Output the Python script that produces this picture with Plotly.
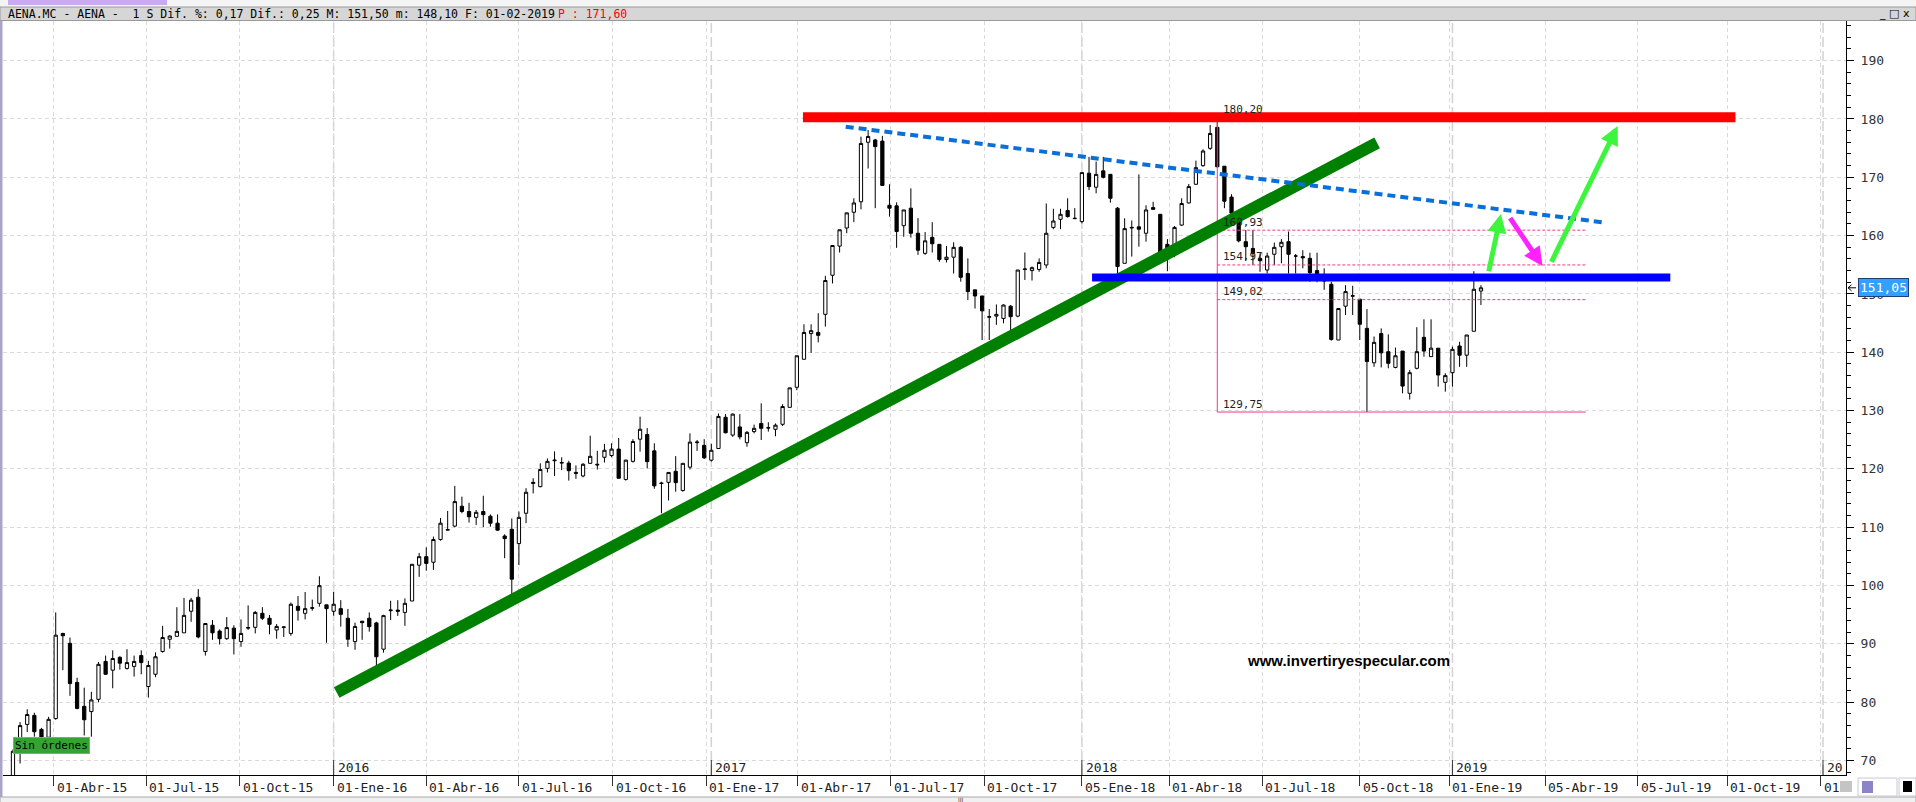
import pandas as pd
import plotly.graph_objects as go

# ---------------- data ----------------
first_week = "2015-02-20"
opens = [66.5, 71.6, 76.2, 77.75, 75.35, 74.0, 77.2, 91.8, 90.1, 83.4,
         79.3, 78.4, 80.5, 87.0, 85.5, 87.7, 85.8, 86.15, 88.0, 82.7,
         84.8, 88.7, 90.8, 91.3, 91.9, 95.6, 98.0, 88.7, 93.2, 92.2,
         90.9, 92.7, 90.4, 92.7, 92.85, 95.25, 94.4, 92.39, 92.85, 91.8,
         96.45, 95.25, 96.1, 96.96, 96.7, 95.6, 96.05, 94.4, 90.4, 93.9,
         94.4, 93.6, 89.1, 95.7, 95.8, 95.4, 97.36, 103.5, 104.96, 104.0,
         107.9, 109.5, 110.2, 113.6, 112.7, 111.7, 112.7, 111.9, 110.7, 108.5,
         109.65, 107.2, 112.4, 117.5, 116.96, 120.1, 121.4, 121.0, 121.0, 119.4,
         118.8, 120.96, 120.8, 122.0, 122.3, 123.4, 118.2, 121.3, 125.1, 125.9,
         123.1, 117.6, 117.7, 119.6, 116.3, 120.3, 124.5, 124.04, 121.5, 123.5,
         128.85, 125.8, 127.2, 124.5, 126.4, 127.8, 127.0, 126.8, 127.65, 130.56,
         134.0, 138.8, 143.2, 143.4, 146.5, 153.2, 158.2, 161.3, 164.0, 165.8,
         176.0, 176.4, 176.2, 165.2, 165.1, 161.7, 164.7, 160.4, 156.96, 159.7,
         158.5, 155.9, 156.3, 158.0, 153.5, 150.7, 149.65, 146.0, 146.2, 145.8,
         147.9, 146.2, 154.2, 154.0, 154.2, 154.96, 161.4, 162.8, 164.3, 162.9,
         162.4, 170.7, 168.3, 171.1, 170.5, 164.7, 155.25, 161.3, 161.5, 160.4,
         164.8, 163.65, 158.5, 156.96, 161.8, 165.6, 168.8, 172.0, 174.96, 178.56,
         171.9, 166.6, 162.6, 158.96, 157.8, 156.1, 154.1, 156.8, 158.1, 158.96,
         156.5, 156.4, 156.1, 154.0, 153.0, 151.65, 142.1, 147.9, 149.6, 149.1,
         144.1, 138.2, 143.2, 140.1, 137.4, 140.2, 132.96, 137.25, 142.56, 139.25,
         140.7, 134.85, 136.5, 141.07, 139.5, 143.6, 150.5]
highs = [71.9, 76.6, 78.8, 78.2, 75.6, 77.5, 95.4, 91.9, 91.1, 84.2,
         82.5, 81.8, 86.9, 88.0, 88.9, 87.9, 89.1, 88.0, 88.9, 87.1,
         88.55, 93.1, 91.5, 96.3, 97.9, 97.9, 99.4, 93.5, 94.1, 92.5,
         94.6, 93.2, 94.2, 96.6, 95.65, 96.3, 94.96, 93.4, 93.0, 97.1,
         98.2, 98.9, 97.6, 101.6, 96.7, 98.9, 97.5, 96.0, 93.65, 93.9,
         95.4, 93.8, 95.0, 97.4, 97.5, 97.8, 103.65, 105.6, 106.56, 108.4,
         111.6, 112.8, 117.1, 115.25, 114.2, 112.96, 115.4, 112.2, 112.2, 108.8,
         111.5, 112.7, 116.7, 118.4, 120.96, 121.8, 123.0, 122.0, 121.4, 120.6,
         121.0, 125.7, 123.1, 124.3, 124.4, 125.3, 121.6, 125.1, 128.96, 127.0,
         124.4, 117.8, 119.4, 122.2, 120.96, 126.1, 124.96, 125.1, 124.3, 129.5,
         129.4, 129.5, 129.4, 126.5, 127.6, 131.25, 128.0, 127.8, 131.1, 133.9,
         139.4, 144.8, 144.8, 146.7, 153.1, 158.3, 161.0, 163.9, 166.4, 176.96,
         178.1, 176.6, 177.1, 168.8, 165.7, 164.4, 168.1, 163.0, 160.6, 162.3,
         158.5, 158.2, 158.85, 158.2, 156.1, 150.7, 149.65, 147.4, 148.2, 148.2,
         148.1, 154.1, 157.1, 154.7, 156.1, 165.5, 164.6, 164.6, 166.4, 164.7,
         170.8, 173.5, 172.7, 173.5, 170.5, 164.9, 162.96, 162.6, 170.5, 165.2,
         165.8, 163.65, 159.4, 161.65, 166.4, 168.85, 172.85, 174.8, 178.96, 180.2,
         171.9, 167.1, 164.1, 160.96, 160.96, 156.96, 157.07, 158.8, 159.4, 160.7,
         156.85, 157.5, 157.07, 157.07, 154.4, 152.1, 147.5, 151.5, 151.4, 149.1,
         147.4, 142.7, 144.1, 143.07, 140.8, 140.2, 136.96, 144.3, 145.65, 145.65,
         140.7, 136.4, 140.96, 141.8, 142.96, 153.9, 151.5]
lows = [65.0, 69.5, 74.9, 74.1, 72.5, 73.0, 77.0, 85.5, 81.1, 78.8,
        74.3, 74.1, 80.0, 84.7, 82.4, 85.6, 85.6, 84.4, 84.8, 80.8,
        84.3, 88.5, 89.2, 91.3, 91.9, 93.8, 90.95, 88.0, 90.7, 89.9,
        90.7, 88.2, 89.5, 92.4, 91.8, 94.1, 91.65, 90.9, 91.2, 91.4,
        94.0, 94.2, 95.7, 96.4, 90.2, 94.85, 92.96, 89.5, 89.0, 90.7,
        92.1, 85.8, 88.5, 94.1, 94.8, 93.1, 97.36, 101.5, 102.56, 102.7,
        107.7, 109.5, 110.0, 112.4, 110.8, 110.4, 110.0, 110.1, 109.4, 104.7,
        98.4, 103.5, 110.7, 115.8, 116.85, 119.4, 118.8, 119.8, 118.0, 118.3,
        118.55, 120.85, 119.9, 121.1, 122.0, 118.4, 118.0, 121.1, 122.96, 120.1,
        116.6, 112.4, 114.6, 116.1, 116.1, 119.9, 123.1, 121.7, 121.25, 123.5,
        126.1, 125.5, 125.07, 123.8, 126.1, 124.96, 126.4, 125.6, 127.36, 130.56,
        133.5, 138.8, 139.9, 141.7, 144.4, 151.8, 157.1, 160.4, 162.3, 164.5,
        171.5, 164.7, 168.6, 163.25, 157.9, 159.8, 159.65, 156.7, 156.7, 157.1,
        155.5, 155.4, 153.5, 152.1, 148.96, 147.5, 142.1, 142.1, 144.7, 144.96,
        143.8, 146.0, 152.4, 152.3, 153.8, 154.4, 161.1, 161.1, 163.1, 162.85,
        162.1, 167.8, 167.25, 169.8, 165.65, 153.5, 155.25, 156.4, 158.1, 158.96,
        164.4, 156.96, 153.9, 156.3, 161.65, 165.5, 168.7, 171.8, 174.7, 171.7,
        164.7, 162.96, 158.85, 155.7, 154.96, 153.8, 153.5, 154.96, 155.25, 153.5,
        153.5, 154.4, 152.1, 152.0, 150.7, 141.99, 142.1, 146.4, 146.4, 142.1,
        129.75, 137.5, 137.4, 137.25, 137.25, 132.96, 131.9, 137.07, 139.25, 139.25,
        134.1, 133.25, 134.1, 137.5, 137.5, 143.6, 148.1]
closes = [71.6, 76.0, 77.9, 74.95, 73.8, 77.07, 91.5, 91.4, 83.2, 78.95,
          77.0, 80.4, 86.5, 84.8, 87.5, 86.7, 86.8, 87.0, 86.8, 86.3,
          87.8, 91.1, 91.35, 92.15, 94.9, 97.5, 91.2, 93.5, 91.9, 90.9,
          92.8, 90.9, 91.8, 92.8, 95.4, 94.4, 93.36, 93.0, 92.9, 96.8,
          95.76, 96.05, 96.2, 99.99, 96.05, 96.8, 95.07, 90.8, 93.0, 93.65,
          92.96, 87.8, 94.85, 95.8, 95.6, 96.96, 103.65, 104.96, 103.8, 107.9,
          110.7, 109.6, 114.4, 112.7, 111.8, 112.56, 112.16, 110.7, 109.5, 108.05,
          101.1, 111.7, 116.0, 117.7, 119.9, 121.3, 121.5, 121.1, 119.7, 119.25,
          120.8, 122.16, 120.7, 123.2, 123.4, 118.4, 121.5, 124.7, 126.8, 121.25,
          117.1, 117.5, 119.4, 117.65, 120.96, 124.6, 124.6, 121.9, 123.2, 129.0,
          126.2, 129.4, 125.5, 126.27, 126.96, 126.96, 127.07, 127.5, 130.7, 133.9,
          139.4, 143.4, 143.7, 142.9, 152.3, 158.3, 161.0, 163.9, 165.6, 175.8,
          177.0, 175.25, 168.6, 164.7, 160.7, 164.4, 160.4, 157.5, 159.1, 158.6,
          155.9, 156.3, 157.99, 152.85, 150.4, 149.65, 147.1, 146.1, 146.5, 148.1,
          146.1, 154.1, 154.27, 154.5, 155.4, 160.4, 162.5, 163.65, 163.25, 162.96,
          170.8, 168.4, 170.5, 170.0, 166.4, 154.7, 161.2, 161.4, 161.1, 164.4,
          164.5, 157.1, 156.0, 161.4, 165.5, 168.4, 171.65, 174.5, 177.5, 171.8,
          165.9, 163.85, 159.1, 158.1, 156.96, 155.7, 156.5, 157.99, 158.85, 156.8,
          156.5, 156.2, 153.65, 153.2, 152.2, 142.2, 147.5, 150.4, 149.7, 144.8,
          138.4, 141.7, 139.9, 138.1, 139.4, 134.2, 136.5, 140.1, 140.2, 140.7,
          136.1, 136.0, 140.5, 139.5, 142.96, 150.8, 151.05]

quarter_dates = ["2015-04-01", "2015-07-01", "2015-10-01", "2016-01-01", "2016-04-01",
                 "2016-07-01", "2016-10-01", "2017-01-01", "2017-04-01", "2017-07-01",
                 "2017-10-01", "2018-01-05", "2018-04-01", "2018-07-01", "2018-10-05",
                 "2019-01-01", "2019-04-05", "2019-07-05", "2019-10-01", "2020-01-01"]
quarter_labels = ["01-Abr-15", "01-Jul-15", "01-Oct-15", "01-Ene-16", "01-Abr-16",
                  "01-Jul-16", "01-Oct-16", "01-Ene-17", "01-Abr-17", "01-Jul-17",
                  "01-Oct-17", "05-Ene-18", "01-Abr-18", "01-Jul-18", "05-Oct-18",
                  "01-Ene-19", "05-Abr-19", "05-Jul-19", "01-Oct-19", "01"]
year_dates = ["2016-01-01", "2017-01-06", "2018-01-05", "2019-01-04", "2020-01-03"]
year_labels = ["2016", "2017", "2018", "2019", "20"]

resistance_dates = ["2017-04-06", "2019-10-09"]
resistance_level = 180.28
support_dates = ["2018-01-15", "2019-08-06"]
support_level = 152.82
uptrend_dates = ["2016-01-04", "2018-10-22"]
uptrend_prices = [81.67, 175.9]
downtrend_dates = ["2017-05-18", "2019-06-02"]
downtrend_prices = [178.67, 162.25]

arrow_tail_dates = ["2019-02-08 10:00", "2019-02-28 17:00", "2019-04-10 14:00"]
arrow_tail_prices = [153.64, 163.24, 155.25]
arrow_tip_dates = ["2019-02-20 14:00", "2019-04-02 10:00", "2019-06-15 07:00"]
arrow_tip_prices = [163.7, 154.79, 178.8]
arrow_colors = ["#3cf53c", "#ff22ff", "#3cf53c"]

fib_start = "2018-05-18"
fib_end = "2019-05-15"
fib_levels = [180.20, 160.93, 154.97, 149.02, 129.75]
fib_labels = ["180,20", "160,93", "154,97", "149,02", "129,75"]

last_price = 151.05
last_price_label = "151,05"
header_text = "AENA.MC - AENA -  1 S Dif. %: 0,17 Dif.: 0,25 M: 151,50 m: 148,10 F: 01-02-2019"
header_red = "P : 171,60"
watermark = "www.invertiryespecular.com"
status_text = "Sin órdenes"

x_range = ["2015-02-10 05:00", "2020-01-25 14:00"]
y_range = [67.53, 196.79]

# ---------------- layout geometry (pixels) ----------------
W, H = 1916, 802
L, R, T, B = 3, 1846, 21, 775


def fx(p):
    return (p - L) / (R - L)


def fy(p):
    return (B - p) / (B - T)


def fprice(v):
    return (v - y_range[0]) / (y_range[1] - y_range[0])


MONO = "DejaVu Sans Mono"
dates = pd.date_range(first_week, periods=len(opens), freq="7D")

fig = go.Figure()
fig.add_trace(go.Candlestick(
    x=dates, open=opens, high=highs, low=lows, close=closes,
    increasing=dict(line=dict(color="black", width=1), fillcolor="white"),
    decreasing=dict(line=dict(color="black", width=1), fillcolor="black"),
    whiskerwidth=0, showlegend=False, hoverinfo="skip",
))

shapes = []
annotations = []

# year lines (long dashes)
for d in year_dates:
    shapes.append(dict(type="line", xref="x", yref="paper", x0=d, x1=d, y0=0, y1=1,
                       line=dict(color="#d2d2d2", width=1.5, dash="10px,4px"), layer="below"))
    shapes.append(dict(type="line", xref="x", yref="paper", x0=d, x1=d, y0=0, y1=fy(760),
                       line=dict(color="#333333", width=1), layer="above"))
for d, t in zip(year_dates, year_labels):
    annotations.append(dict(x=d, y=fy(767), xref="x", yref="paper", text=t, showarrow=False,
                            xanchor="left", yanchor="middle", xshift=2,
                            font=dict(family=MONO, size=13, color="#222")))
for d, t in zip(quarter_dates, quarter_labels):
    annotations.append(dict(x=d, y=fy(787), xref="x", yref="paper", text=t, showarrow=False,
                            xanchor="left", yanchor="middle", xshift=1,
                            font=dict(family=MONO, size=13, color="#222")))

# Fibonacci-like pink levels
shapes.append(dict(type="line", xref="x", yref="y", x0=fib_start, x1=fib_start,
                   y0=fib_levels[0], y1=fib_levels[-1], line=dict(color="#ff3388", width=1)))
for lv, lb in zip(fib_levels, fib_labels):
    solid = lv == min(fib_levels)
    shapes.append(dict(type="line", xref="x", yref="y", x0=fib_start, x1=fib_end, y0=lv, y1=lv,
                       line=dict(color="#ff3388", width=1, dash="solid" if solid else "3px,2px")))
    annotations.append(dict(x=fib_start, y=lv, xref="x", yref="y", text=lb, showarrow=False,
                            xanchor="left", yanchor="middle", xshift=4, yshift=8,
                            font=dict(family=MONO, size=11, color="#222")))

# trend / level lines
shapes.append(dict(type="line", xref="x", yref="y", x0=uptrend_dates[0], x1=uptrend_dates[1],
                   y0=uptrend_prices[0], y1=uptrend_prices[1],
                   line=dict(color="#008000", width=12)))
shapes.append(dict(type="line", xref="x", yref="y", x0=downtrend_dates[0], x1=downtrend_dates[1],
                   y0=downtrend_prices[0], y1=downtrend_prices[1],
                   line=dict(color="#0a6fd8", width=4, dash="8px,5px")))
shapes.append(dict(type="line", xref="x", yref="y", x0=resistance_dates[0], x1=resistance_dates[1],
                   y0=resistance_level, y1=resistance_level,
                   line=dict(color="#ff0000", width=10)))
shapes.append(dict(type="line", xref="x", yref="y", x0=support_dates[0], x1=support_dates[1],
                   y0=support_level, y1=support_level,
                   line=dict(color="#0000ff", width=8)))

for td, tp, hd, hp, c in zip(arrow_tail_dates, arrow_tail_prices, arrow_tip_dates,
                             arrow_tip_prices, arrow_colors):
    annotations.append(dict(x=hd, y=hp, ax=td, ay=tp, xref="x", yref="y", axref="x", ayref="y",
                            text="", showarrow=True, arrowhead=2, arrowsize=0.75, arrowwidth=5,
                            arrowcolor=c, standoff=0))

# small arrow pointing at the last price on the axis
py_last = fprice(last_price)
dy = 3.0 / (B - T)
shapes.append(dict(type="path", xref="paper", yref="paper",
                   path=(f"M {fx(1848)} {py_last} L {fx(1856)} {py_last} "
                         f"M {fx(1851.5)} {py_last + dy} L {fx(1848)} {py_last} "
                         f"L {fx(1851.5)} {py_last - dy}"),
                   line=dict(color="#000", width=1), layer="above"))

# window chrome: header bar
shapes += [
    dict(type="rect", xref="paper", yref="paper", x0=fx(0), x1=fx(W), y0=fy(0), y1=fy(7),
         fillcolor="#f4f4f4", line=dict(width=0), layer="above"),
    dict(type="rect", xref="paper", yref="paper", x0=fx(8), x1=fx(167), y0=fy(0), y1=fy(5),
         fillcolor="#c9a9ef", line=dict(width=0), layer="above"),
    dict(type="rect", xref="paper", yref="paper", x0=fx(0), x1=fx(W), y0=fy(7), y1=fy(20.5),
         fillcolor="#d6d6d6", line=dict(color="#9a9a9a", width=1), layer="above"),
    dict(type="rect", xref="paper", yref="paper", x0=fx(0), x1=fx(2.5), y0=fy(21), y1=fy(W),
         fillcolor="#aaa4c8", line=dict(width=0), layer="above"),
    dict(type="rect", xref="paper", yref="paper", x0=fx(0), x1=fx(W), y0=fy(797), y1=fy(803),
         fillcolor="#f0f0f0", line=dict(color="#a8a8a8", width=1), layer="above"),
    # bottom-right icons
    dict(type="rect", xref="paper", yref="paper", x0=fx(1840), x1=fx(1852), y0=fy(781), y1=fy(792),
         fillcolor="#c4c4c4", line=dict(width=0), layer="above"),
    dict(type="rect", xref="paper", yref="paper", x0=fx(1858), x1=fx(1897), y0=fy(778), y1=fy(796),
         fillcolor="#ffffff", line=dict(color="#c8c8d8", width=1), layer="above"),
    dict(type="rect", xref="paper", yref="paper", x0=fx(1862), x1=fx(1873), y0=fy(781), y1=fy(793),
         fillcolor="#8c84c8", line=dict(width=0), layer="above"),
    dict(type="rect", xref="paper", yref="paper", x0=fx(1899), x1=fx(1916), y0=fy(778), y1=fy(796),
         fillcolor="#ffffff", line=dict(color="#c8c8d8", width=1), layer="above"),
    dict(type="rect", xref="paper", yref="paper", x0=fx(1903), x1=fx(1912), y0=fy(781), y1=fy(792),
         fillcolor="#000000", line=dict(width=0), layer="above"),
]

annotations += [
    dict(x=fx(6), y=fy(14), xref="paper", yref="paper", showarrow=False, xanchor="left",
         yanchor="middle", text=header_text, font=dict(family=MONO, size=11.5, color="#000")),
    dict(x=fx(556), y=fy(14), xref="paper", yref="paper", showarrow=False, xanchor="left",
         yanchor="middle", text=header_red, font=dict(family=MONO, size=11.5, color="#ff0000")),
    dict(x=fx(1912), y=fy(13), xref="paper", yref="paper", showarrow=False, xanchor="right",
         yanchor="middle", text="_ □ x", font=dict(family="DejaVu Sans", size=11, color="#000")),
    dict(x=fx(1348), y=fy(660), xref="paper", yref="paper", showarrow=False, xanchor="center",
         yanchor="middle", text="<b>" + watermark + "</b>",
         font=dict(family="Liberation Sans", size=15, color="#000")),
    dict(x=fx(13), y=fy(745), xref="paper", yref="paper", showarrow=False, xanchor="left",
         yanchor="middle", text=status_text, bgcolor="#34a334", bordercolor="#5cc45c",
         borderwidth=1, borderpad=1, font=dict(family=MONO, size=11, color="#000")),
    dict(x=fx(1858), y=last_price, xref="paper", yref="y", showarrow=False, xanchor="left",
         yanchor="middle", text=last_price_label, bgcolor="#33a0ff", bordercolor="#1d3f7a",
         borderwidth=1, borderpad=1, font=dict(family=MONO, size=13, color="#ffffff")),
    dict(x=fx(961), y=fy(799.5), xref="paper", yref="paper", showarrow=False, xanchor="center",
         yanchor="middle", text="III", font=dict(family="DejaVu Sans", size=6, color="#444")),
]

fig.update_layout(
    width=W, height=H,
    margin=dict(l=L, r=W - R, t=T, b=H - B, pad=0),
    paper_bgcolor="white", plot_bgcolor="white",
    showlegend=False, boxgap=0.35,
    shapes=shapes, annotations=annotations,
    xaxis=dict(type="date", range=x_range, rangeslider=dict(visible=False),
               showline=True, linecolor="black", linewidth=1,
               ticks="outside", ticklen=10, tickcolor="#333", tickwidth=1,
               tickvals=quarter_dates, showticklabels=False,
               showgrid=True, gridcolor="#dadada", griddash="4px,3px", gridwidth=1,
               zeroline=False, fixedrange=True),
    yaxis=dict(side="right", range=y_range, tick0=0, dtick=10,
               showline=True, linecolor="black", linewidth=1,
               ticks="outside", ticklen=7, tickcolor="black",
               minor=dict(dtick=2, ticks="outside", ticklen=4, tickcolor="black", showgrid=False),
               showgrid=True, gridcolor="#dadada", griddash="4px,3px", gridwidth=1,
               zeroline=False, ticklabelstandoff=4,
               tickfont=dict(family=MONO, size=13, color="#333")),
)

fig.write_html("out.html", config={"displayModeBar": False},
               post_script="document.body.style.margin='0px';document.body.style.overflow='hidden';")
